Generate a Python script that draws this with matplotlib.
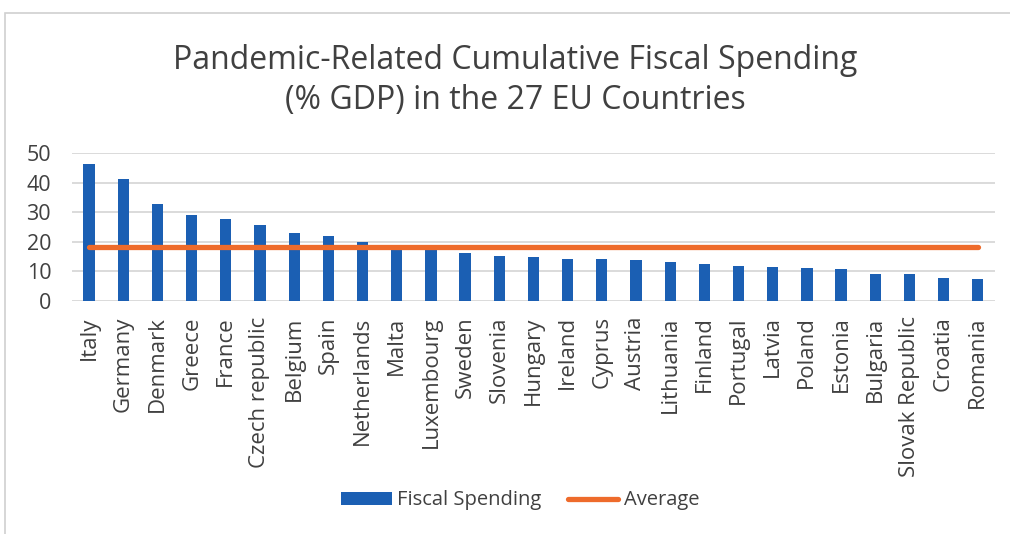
import matplotlib.pyplot as plt
from matplotlib.patches import Rectangle

plt.rcParams['font.family'] = ['Open Sans', 'DejaVu Sans']

# Data
countries = ['Italy', 'Germany', 'Denmark', 'Greece', 'France', 'Czech republic',
             'Belgium', 'Spain', 'Netherlands', 'Malta', 'Luxembourg', 'Sweden',
             'Slovenia', 'Hungary', 'Ireland', 'Cyprus', 'Austria', 'Lithuania',
             'Finland', 'Portugal', 'Latvia', 'Poland', 'Estonia', 'Bulgaria',
             'Slovak Republic', 'Croatia', 'Romania']
spending = [46.4, 41.3, 32.7, 29.0, 27.7, 25.6, 23.1, 21.9, 20.1, 18.0, 17.3, 16.1,
            15.1, 14.7, 14.3, 14.1, 13.9, 13.1, 12.5, 11.8, 11.6, 11.2, 10.8, 9.2,
            9.2, 7.8, 7.3]
average = [18.4] * len(countries)

text_color = '#404040'
blue = '#1b5fb3'
orange = '#ee6b2b'

fig = plt.figure(figsize=(10.1, 5.34), dpi=100)

# light frame around the chart
fig.patches.append(Rectangle((5 / 1010, -0.1), 1.1, 1 - 13 / 534 + 0.1,
                             transform=fig.transFigure, fill=False,
                             edgecolor='#d0d0d0', linewidth=1.2))

ax = fig.add_axes([0.0713, 0.4363, 0.9137, 0.2772])
x = range(len(countries))
bars = ax.bar(x, spending, width=0.33, color=blue, label='Fiscal Spending', zorder=2)
line, = ax.plot(x, average, color=orange, linewidth=3.8, solid_capstyle='round',
                label='Average', zorder=3)

ax.set_xlim(-0.5, len(countries) - 0.5)
ax.set_ylim(0, 50)
ax.set_yticks(range(0, 51, 10))
ax.yaxis.grid(True, color='#d4d4d4', linewidth=1.2, zorder=0)
ax.set_axisbelow(True)
for s in ax.spines.values():
    s.set_visible(False)
ax.tick_params(axis='both', length=0, colors=text_color)
ax.tick_params(axis='y', pad=15, labelsize=15.5)
ax.tick_params(axis='x', pad=11)
ax.set_xticks(list(x))
ax.set_xticklabels(countries, rotation=90, fontsize=16, color=text_color)

fig.text(0.51, 0.85, 'Pandemic-Related Cumulative Fiscal Spending\n(% GDP) in the 27 EU Countries',
         ha='center', va='center', fontsize=23, color=text_color, linespacing=1.28)

fig.legend([bars, line], ['Fiscal Spending', 'Average'], loc='center',
           bbox_to_anchor=(0.515, 0.063), ncol=2, frameon=False,
           fontsize=14.5, labelcolor=text_color, handlelength=2.5, handleheight=0.6,
           handletextpad=0.25, columnspacing=1.35)

fig.savefig('out.png', dpi=100)
